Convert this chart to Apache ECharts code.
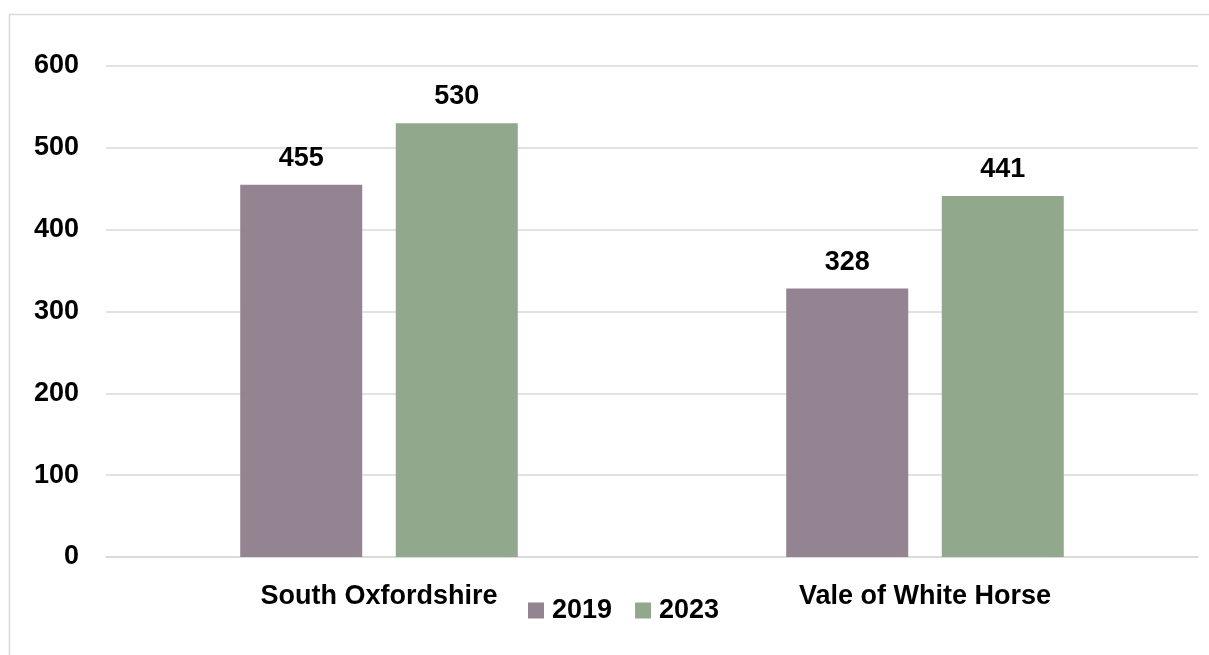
<!DOCTYPE html>
<html>
<head>
<meta charset="utf-8">
<script src="https://cdn.jsdelivr.net/npm/echarts@6/dist/echarts.min.js"></script>
<style>
html,body{margin:0;padding:0;background:#fff;}
#chart{width:1209px;height:655px;}
</style>
</head>
<body>
<div id="chart"></div>
<script>
const categories = ['South Oxfordshire', 'Vale of White Horse'];
const seriesNames = ['2019', '2023'];
const values2019 = [455, 328];
const values2023 = [530, 441];
const yTicks = [0, 100, 200, 300, 400, 500, 600];

const FONT = '"Liberation Sans", Arial, sans-serif';
const chart = echarts.init(document.getElementById('chart'), null, {renderer: 'canvas'});

const labelStyle = {
  show: true,
  position: 'top',
  distance: 13,
  color: '#000',
  fontFamily: FONT,
  fontWeight: 'bold',
  fontSize: 27
};

chart.setOption({
  animation: false,
  backgroundColor: '#fff',
  graphic: [{
    type: 'rect',
    shape: {x: 9.5, y: 14.5, width: 1250, height: 700},
    style: {fill: 'none', stroke: '#d9d9d9', lineWidth: 1.5},
    silent: true
  }],
  grid: {left: 106, right: 11, top: 66, bottom: 98, containLabel: false},
  legend: {
    data: seriesNames,
    left: 528,
    top: 597,
    padding: 0,
    itemWidth: 16,
    itemHeight: 16,
    itemGap: 23,
    icon: 'rect',
    textStyle: {color: '#000', fontFamily: FONT, fontWeight: 'bold', fontSize: 27, padding: [0, 0, 0, 3]}
  },
  xAxis: {
    type: 'category',
    data: categories,
    axisLine: {show: true, lineStyle: {color: '#d9d9d9', width: 1.5}},
    axisTick: {show: false},
    axisLabel: {color: '#000', fontFamily: FONT, fontWeight: 'bold', fontSize: 27, margin: 26}
  },
  yAxis: {
    type: 'value',
    min: yTicks[0],
    max: yTicks[yTicks.length - 1],
    interval: yTicks[1] - yTicks[0],
    axisLine: {show: false},
    axisTick: {show: false},
    splitLine: {show: true, lineStyle: {color: '#d9d9d9', width: 1.5}},
    axisLabel: {color: '#000', fontFamily: FONT, fontWeight: 'bold', fontSize: 27, margin: 27}
  },
  series: [
    {
      name: seriesNames[0],
      type: 'bar',
      data: values2019,
      barWidth: 122,
      barGap: '27.5%',
      itemStyle: {color: '#948391'},
      label: labelStyle
    },
    {
      name: seriesNames[1],
      type: 'bar',
      data: values2023,
      barWidth: 122,
      barGap: '27.5%',
      itemStyle: {color: '#91a88c'},
      label: labelStyle
    }
  ]
});
</script>
</body>
</html>
